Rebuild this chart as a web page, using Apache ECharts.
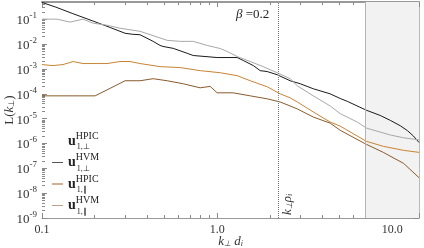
<!DOCTYPE html>
<html><head><meta charset="utf-8">
<script src="https://cdn.jsdelivr.net/npm/echarts@6/dist/echarts.min.js"></script>
<style>html,body{margin:0;padding:0;background:#fff}#c{width:424px;height:248px}</style>
</head><body><div id="c"></div>
<script>
// ---- data (k_perp d_i, L(k_perp)) ----
const hpicPerp = [[0.1,0.48],[0.12,0.31],[0.15,0.17],[0.196,0.085],[0.245,0.047],[0.298,0.0275],[0.33,0.025],[0.363,0.024],[0.431,0.013],[0.472,0.0089],[0.491,0.0081],[0.561,0.0068],[0.674,0.0043],[0.73,0.0035],[1.0,0.0029],[1.30,0.0029],[1.41,0.0022],[1.61,0.00137],[1.76,0.00086],[1.93,0.00079],[2.20,0.00059],[2.61,0.000337],[2.98,0.000255],[3.54,0.00016],[4.42,0.0001],[5.04,0.000065],[5.53,0.00005],[7.1,0.000022],[8.53,0.0000135],[9.75,0.0000085],[11.1,0.0000052],[12.2,0.0000033],[13.2,0.000002],[14.2,0.0000011]];
const hvmPerp = [[0.1,0.102],[0.1218,0.102],[0.1445,0.0776],[0.1715,0.102],[0.1955,0.0703],[0.235,0.058],[0.279,0.0438],[0.363,0.033],[0.518,0.0143],[0.615,0.013],[0.73,0.013],[0.877,0.0089],[1.04,0.0067],[1.14,0.0051],[1.30,0.0032],[1.545,0.002],[1.83,0.00125],[2.20,0.00071],[2.61,0.000407],[2.87,0.00021],[3.54,0.000083],[4.42,0.0000325],[5.04,0.000016],[6.31,0.0000073],[7.1,0.0000042],[8.5,0.0000029],[9.75,0.0000022],[11.6,0.0000017],[14.2,0.0000014]];
const hpicPar = [[0.1,0.00151],[0.1156,0.00137],[0.1318,0.00151],[0.1504,0.002],[0.1715,0.00166],[0.206,0.00166],[0.235,0.00166],[0.279,0.002],[0.318,0.002],[0.363,0.00166],[0.472,0.00125],[0.615,0.00114],[0.80,0.00086],[1.04,0.00071],[1.30,0.00054],[1.545,0.000337],[1.93,0.000193],[2.29,0.0001],[2.61,0.000069],[2.87,0.000047],[3.54,0.0000186],[4.42,0.0000073],[5.04,0.000005],[7.1,0.00000123],[8.88,0.00000077],[11.6,0.00000053],[14.2,0.00000044]];
const hvmPar = [[0.1,0.000083],[0.15,0.000083],[0.188,0.000083],[0.201,0.000083],[0.245,0.000167],[0.298,0.000337],[0.349,0.000337],[0.363,0.000337],[0.431,0.000407],[0.518,0.000337],[0.64,0.000255],[0.80,0.000175],[0.912,0.0002],[1.0,0.00011],[1.234,0.00011],[1.545,0.000083],[1.93,0.000063],[2.29,0.000047],[2.61,0.0000325],[2.87,0.0000246],[3.54,0.0000116],[4.42,0.0000066],[5.04,0.0000034],[7.1,0.00000093],[8.88,0.00000044],[11.6,0.000000158],[14.2,0.000000042]];
const seriesNames = ['HPIC_perp','HVM_perp','HPIC_par','HVM_par'];
const legendSup = ['HPIC','HVM','HPIC','HVM'];
const legendSub = ['1,⊥','1,⊥','1,∥','1,∥'];
const xTickLabels = {'0.1':'0.1','1':'1.0','10':'10.0'};
const kRhoI = 2.23;
const kShadeStart = 7.05;
const kMin = 0.1, kMax = 14.2, LMin = 1e-9, LMax = 0.5;
const betaSymbol = 'β', betaValue = ' =0.2';

const serif = 'Liberation Serif';
const tickGray = '#8a8a8a';
const chart = echarts.init(document.getElementById('c'), null, {renderer:'canvas'});
const seriesColors = ['#1a1a1a','#a8a8a8','#c98434','#8a5a2c'];
const legendColors = ['rgba(0,0,0,0)','#555555','#a0622a','#b8a48c'];
const datasets = [hpicPerp, hvmPerp, hpicPar, hvmPar];

function yLabel(v){
  const e = Math.log10(v); const r = Math.round(e);
  if (Math.abs(e-r) > 1e-6 || r > -1) return '';
  return '{b|10}{s|' + r + '}';
}
function xLabel(v){
  const key = String(Math.round(v*1000)/1000);
  return xTickLabels[key] || '';
}
const axisCommon = {
  type:'log', logBase:10,
  axisTick:{show:true, inside:true, length:5, lineStyle:{color:tickGray}},
  minorTick:{show:true, splitNumber:9, length:3, lineStyle:{color:tickGray}},
  splitLine:{show:false}, minorSplitLine:{show:false}
};
const option = {
  animation:false,
  backgroundColor:'#fff',
  grid:{left:42, right:5, top:2, bottom:30, containLabel:false, outerBoundsMode:'none'},
  title:{text:'{i|' + betaSymbol + '}{n|' + betaValue + '}', left:231, top:3,
    textStyle:{fontWeight:'normal', rich:{i:{fontFamily:serif, fontSize:13, fontStyle:'italic', fontWeight:'normal', color:'#222'}, n:{fontFamily:serif, fontSize:13, fontWeight:'normal', color:'#222'}}}},
  legend:{
    orient:'vertical', left:52, top:131, padding:0, itemGap:1.5, itemWidth:11, itemHeight:1, icon:'rect',
    data: seriesNames.map((n,i)=>({name:n, itemStyle:{color:legendColors[i], borderWidth:0}})),
    formatter: n => { const i = seriesNames.indexOf(n); return '{u|u}{sp|' + legendSup[i] + '}{sb|' + legendSub[i] + '}'; },
    textStyle:{ lineHeight:20, color:'#222', fontFamily:serif,
      rich:{
        u:{fontFamily:serif, fontWeight:'bold', fontSize:14, color:'#222', verticalAlign:'middle', lineHeight:20},
        sp:{fontFamily:serif, fontSize:10, color:'#222', verticalAlign:'top', width:1},
        sb:{fontFamily:serif, fontSize:8, color:'#222', verticalAlign:'bottom'}
      }}
  },
  xAxis:[
    Object.assign({}, axisCommon, {position:'bottom', min:kMin, max:kMax,
      axisLine:{show:true, lineStyle:{color:'#999', width:1}},
      axisLabel:{formatter:xLabel, showMaxLabel:false, fontFamily:serif, fontSize:12, color:'#333', margin:6},
      name:'{i|k}{s|⊥}{i| d}{s|i}', nameLocation:'middle', nameGap:17, nameMoveOverlap:false,
      nameTextStyle:{rich:{i:{fontFamily:serif, fontStyle:'italic', fontSize:13, color:'#333'}, s:{fontFamily:serif, fontStyle:'italic', fontSize:8, color:'#333', verticalAlign:'bottom'}}}
    }),
    Object.assign({}, axisCommon, {position:'top', min:kMin, max:kMax,
      axisLine:{show:true, lineStyle:{color:'#999', width:2}}, axisLabel:{show:false}})
  ],
  yAxis:[
    Object.assign({}, axisCommon, {position:'left', min:LMin, max:LMax, splitNumber:10,
      axisLine:{show:false},
      axisLabel:{formatter:yLabel, showMaxLabel:false, margin:5, color:'#333',
        rich:{b:{fontFamily:serif, fontSize:13, color:'#333', verticalAlign:'bottom', lineHeight:16}, s:{fontFamily:serif, fontSize:9, color:'#333', verticalAlign:'top'}}},
      name:'{n|L(}{i|k}{s|⊥}{n|)}', nameLocation:'middle', nameGap:26, nameMoveOverlap:false,
      nameTextStyle:{rich:{n:{fontFamily:serif, fontSize:13, color:'#333'}, i:{fontFamily:serif, fontStyle:'italic', fontSize:13, color:'#333'}, s:{fontFamily:serif, fontSize:8, color:'#333', verticalAlign:'bottom'}}}
    }),
    Object.assign({}, axisCommon, {position:'right', min:LMin, max:LMax, splitNumber:10,
      axisLine:{show:true, lineStyle:{color:'#bbb', width:1}}, axisLabel:{show:false}})
  ],
  series:[
    {type:'line', name:'markers', data:[], z:1, silent:true,
     markArea:{silent:true, itemStyle:{color:'#f2f2f2'}, data:[[{xAxis:kShadeStart},{xAxis:kMax}]]},
     markLine:{silent:true, symbol:'none', animation:false,
       data:[
         {xAxis:kShadeStart, lineStyle:{color:'#b4b4b4', width:1, type:'solid'}, label:{show:false}},
         {xAxis:kRhoI, lineStyle:{color:'#777', width:1, type:'dotted'},
          label:{show:true, position:'insideStartBottom', distance:3, formatter:'{i|k}{s|⊥}{i|ρ}{s|i}',
            rich:{i:{fontFamily:serif, fontStyle:'italic', fontSize:13, color:'#333'}, s:{fontFamily:serif, fontStyle:'italic', fontSize:8, color:'#333', verticalAlign:'bottom'}}}}
       ]}
    }
  ].concat(datasets.map((d,i)=>({
    type:'line', name:seriesNames[i], data:d, symbol:'none', showSymbol:false, z:3,
    lineStyle:{color:seriesColors[i], width:1}, itemStyle:{color:seriesColors[i]}, clip:true
  })))
};
chart.setOption(option);
</script></body></html>
